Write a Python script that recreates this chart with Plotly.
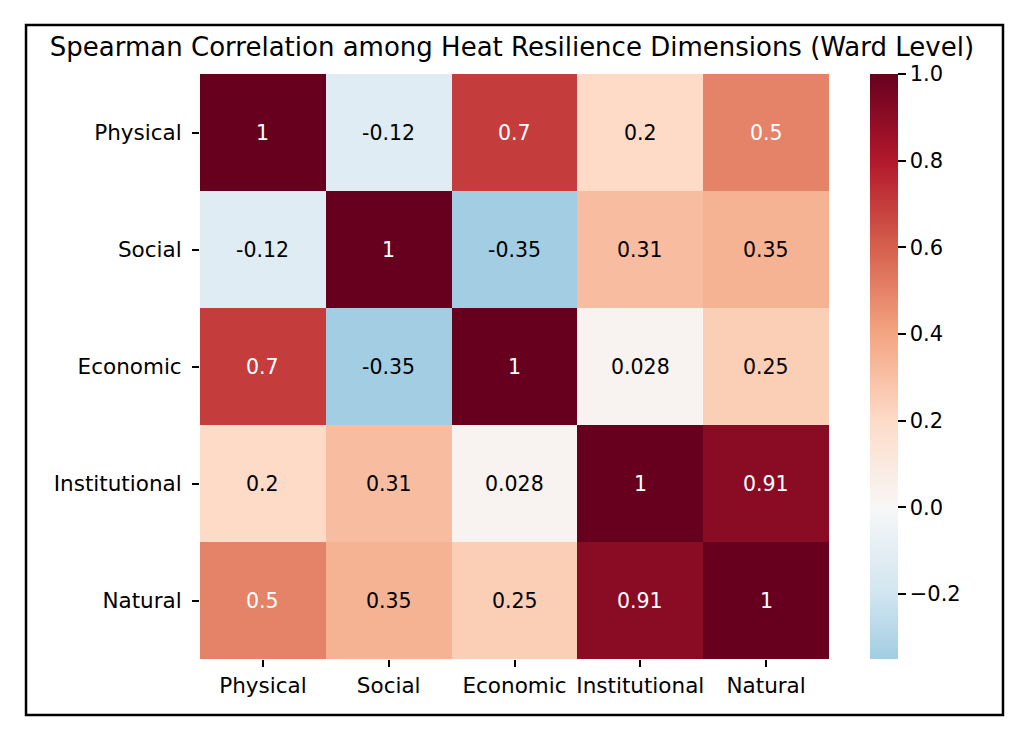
import plotly.graph_objects as go

# dimensions and spearman correlation matrix (rows top -> bottom)
dims = ['Physical', 'Social', 'Economic', 'Institutional', 'Natural']
corr_physical = [1.0, -0.12, 0.7, 0.2, 0.5]
corr_social = [-0.12, 1.0, -0.35, 0.31, 0.35]
corr_economic = [0.7, -0.35, 1.0, 0.028, 0.25]
corr_institutional = [0.2, 0.31, 0.028, 1.0, 0.91]
corr_natural = [0.5, 0.35, 0.25, 0.91, 1.0]
cbar_ticks = [-0.2, 0.0, 0.2, 0.4, 0.6, 0.8, 1.0]

z = [corr_physical, corr_social, corr_economic, corr_institutional, corr_natural]
vmin = min(min(r) for r in z)
vmax = 1.0

# RdBu_r anchors, centred at 0 like seaborn (full map spans -1..1, cropped to vmin..vmax)
rdbu_r = ['#053061', '#2166ac', '#4393c3', '#92c5de', '#d1e5f0', '#f7f7f7',
          '#fddbc7', '#f4a582', '#d6604d', '#b2182b', '#67001f']


def hex2rgb(h):
    return tuple(int(h[i:i + 2], 16) for i in (1, 3, 5))


def sample(p):
    n = len(rdbu_r) - 1
    i = min(int(p * n), n - 1)
    f = p * n - i
    a, b = hex2rgb(rdbu_r[i]), hex2rgb(rdbu_r[i + 1])
    return tuple(a[k] + (b[k] - a[k]) * f for k in range(3))


colorscale = []
p0 = (vmin + 1) / 2
pts = [p0] + [k / 10 for k in range(11) if k / 10 > p0]
for p in pts:
    v = 2 * p - 1
    s = (v - vmin) / (vmax - vmin)
    r, g, b = sample(p)
    colorscale.append([max(0, min(1, s)), 'rgb(%d,%d,%d)' % (round(r), round(g), round(b))])

fig = go.Figure(go.Heatmap(
    z=z, x=dims, y=dims,
    zmin=vmin, zmax=vmax,
    colorscale=colorscale,
    xgap=0, ygap=0,
    colorbar=dict(
        x=1.0652, xanchor='left', xref='paper', xpad=0,
        y=0.5, yanchor='middle', ypad=0,
        len=585, lenmode='pixels',
        thickness=28, thicknessmode='pixels',
        outlinewidth=0,
        tickvals=cbar_ticks,
        tickformat='.1f',
        tickprefix='\u00a0',
        ticks='outside', ticklen=8, tickwidth=1.5, tickcolor='black',
        tickfont=dict(family='DejaVu Sans', size=21, color='black'),
    ),
    hoverinfo='skip',
))

# annotations, white on dark cells
for i, row in enumerate(z):
    for j, v in enumerate(row):
        fig.add_annotation(
            x=dims[j], y=dims[i], text='{:.2g}'.format(v),
            showarrow=False,
            font=dict(family='DejaVu Sans', size=20.5,
                      color='white' if v >= 0.45 else 'black'),
        )

# outer black frame
fig.add_shape(type='rect', xref='paper', yref='paper',
              x0=-0.2766, x1=1.2766, y0=-0.0957, y1=1.0838,
              line=dict(color='black', width=2.5))

fig.update_layout(
    width=1030, height=740,
    margin=dict(l=192, r=209, t=66, b=89),
    paper_bgcolor='white', plot_bgcolor='white',
    title=dict(text='Spearman Correlation among Heat Resilience Dimensions (Ward Level)',
               x=0.4893, xanchor='center', y=1 - 39 / 740, yanchor='middle',
               font=dict(family='DejaVu Sans', size=26, color='black')),
    xaxis=dict(showgrid=False, zeroline=False, ticks='outside', ticklen=7,
               tickwidth=1.5, tickcolor='black',
               tickfont=dict(family='DejaVu Sans', size=21.5, color='black')),
    yaxis=dict(showgrid=False, zeroline=False, autorange='reversed',
               ticks='outside', ticklen=7, tickwidth=1.5, tickcolor='black',
               ticklabelstandoff=6,
               tickfont=dict(family='DejaVu Sans', size=21.5, color='black')),
)

fig.write_html("out.html")
